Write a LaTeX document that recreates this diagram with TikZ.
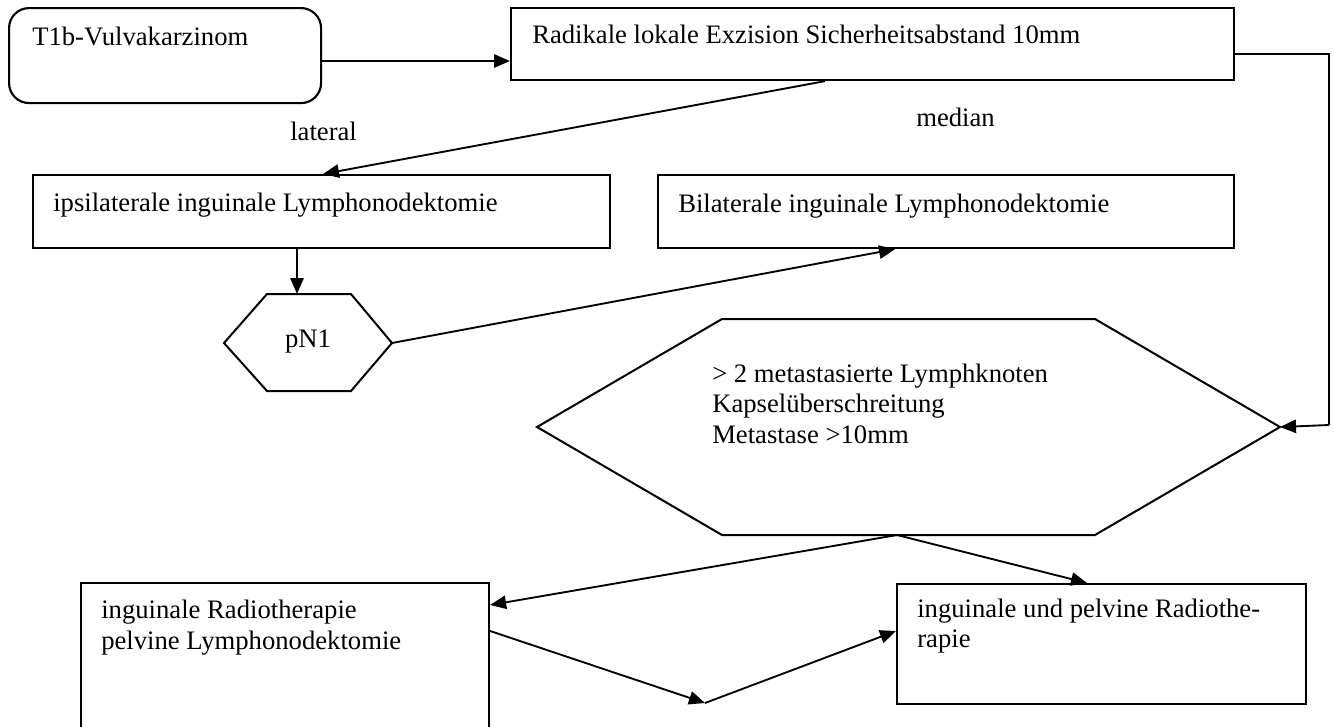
\documentclass[tikz,border=0pt]{standalone}
\usepackage{fontspec}
\setmainfont{Liberation Serif}
\usetikzlibrary{arrows.meta,calc}
\begin{document}
\begin{tikzpicture}[x=0.75pt,y=-0.75pt,
  every node/.style={font=\fontsize{20}{23}\selectfont},
  box/.style={draw, line width=1.6pt, inner sep=0pt, anchor=north west},
  txt/.style={anchor=base west, inner sep=0pt},
  conn/.style={line width=1.4pt, -{Triangle[length=12pt,width=10pt]}},
  plainline/.style={line width=1.4pt},
  hexline/.style={line width=1.5pt, line join=miter}]
\useasboundingbox (0,0) rectangle (1333,726);

% boxes
\node[box, rounded corners=15pt, minimum width=234pt, minimum height=71.25pt] (t1b) at (8,7) {};
\node[box, minimum width=542.25pt, minimum height=54pt] (rad) at (510,7) {};
\node[box, minimum width=432.75pt, minimum height=54.75pt] (ipsi) at (32,174) {};
\node[box, minimum width=432pt, minimum height=54.75pt] (bil) at (657,174) {};
\node[box, minimum width=306pt, minimum height=112.5pt] (lrt) at (80,582) {};
\node[box, minimum width=306.75pt, minimum height=90pt] (rrt) at (896,583) {};

% texts
\node[txt] (t1bt) at (32,45) {T1b-Vulvakarzinom};
\node[txt] (radt) at (532,43) {Radikale lokale Exzision Sicherheitsabstand 10mm};
\node[txt] (ipsit) at (53,211) {ipsilaterale inguinale Lymphonodektomie};
\node[txt] (bilt) at (678,212) {Bilaterale inguinale Lymphonodektomie};
\node[txt] (lrt1) at (101,618) {inguinale Radiotherapie};
\node[txt] (lrt2) at (101,649) {pelvine Lymphonodektomie};
\node[txt] (rrt1) at (917,617) {inguinale und pelvine Radiothe-};
\node[txt] (rrt2) at (917,647) {rapie};
\node[txt] (lat) at (290,140) {lateral};
\node[txt] (med) at (916,126) {median};

% pN1 hexagon
\coordinate (pL) at (224,343);
\coordinate (pTL) at (267,294);
\coordinate (pTR) at (351,294);
\coordinate (pR) at (392,343);
\coordinate (pBR) at (351,391);
\coordinate (pBL) at (267,391);
\draw[hexline] (pL) -- (pTL) -- (pTR) -- (pR) -- (pBR) -- (pBL) -- cycle;
\node[anchor=base, inner sep=0pt] (pn1) at (308,347) {pN1};
\coordinate (pTop) at (297,294);

% big hexagon
\coordinate (hL) at (537,427);
\coordinate (hTL) at (722,319);
\coordinate (hTR) at (1095,319);
\coordinate (hR) at (1280,427);
\coordinate (hBR) at (1095,535);
\coordinate (hBL) at (722,535);
\draw[hexline] (hL) -- (hTL) -- (hTR) -- (hR) -- (hBR) -- (hBL) -- cycle;
\node[txt] (h1) at (712,382) {> 2 metastasierte Lymphknoten};
\node[txt] (h2) at (712,412) {Kapselüberschreitung};
\node[txt] (h3) at (712,443) {Metastase >10mm};
\coordinate (hB) at (897,535);

% connectors
\draw[conn] (t1b.east |- 0,61) -- (rad.west |- 0,61);
\draw[conn] (rad.south -| 825,0) -- (ipsi.north -| 323,0);
\draw[conn] (ipsi.south -| pTop) -- (pTop);
\draw[conn] (pR) -- (bil.south -| 895,0);
\coordinate (rj1) at (1329,54);
\coordinate (rj2) at (1329,425);
\draw[plainline] (rad.east |- rj1) -- (rj1) -- (rj2);
\draw[conn] (rj2) -- (hR);
\draw[conn] (hB) -- (lrt.east |- 0,605);
\draw[conn] (hB) -- (rrt.north -| 1087,0);
\coordinate (vtip) at (705,703);
\draw[conn] (lrt.east |- 0,631) -- (vtip);
\draw[conn] (vtip) -- (rrt.west |- 0,631);
\end{tikzpicture}
\end{document}
